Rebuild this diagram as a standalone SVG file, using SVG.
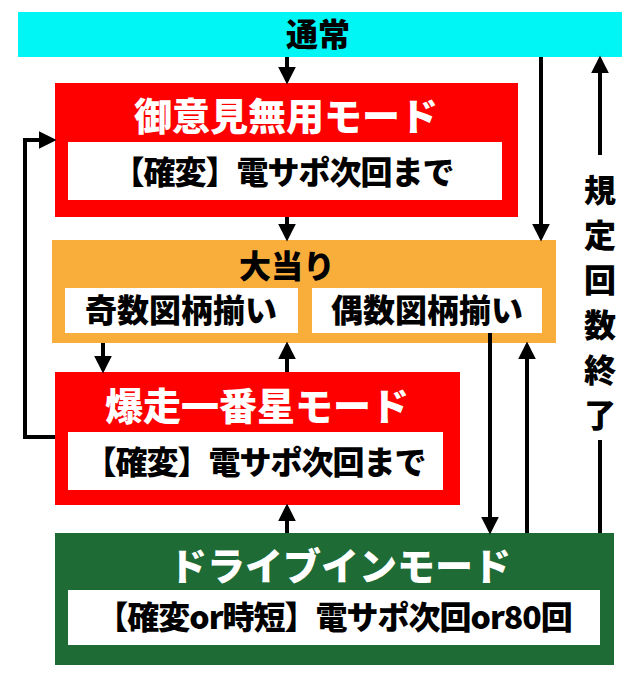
<svg xmlns="http://www.w3.org/2000/svg" width="640" height="683" viewBox="0 0 640 683">
<style>
text{font-family:"Noto Sans CJK JP","Noto Sans",sans-serif;font-weight:900;text-anchor:middle}
.t{fill:#fff;font-size:38px}
.b{fill:#000;font-size:32px}
.w{fill:#fff}
.c{stroke:#000;stroke-width:4;fill:none}
</style>
<defs><marker id="a" viewBox="0 0 10 10" refX="8" refY="5" markerWidth="4.5" markerHeight="4.5" orient="auto"><path d="M0,0L10,5L0,10z" fill="#000"/></marker></defs>
<rect width="640" height="683" fill="#fff"/>
<g id="top"><rect x="18" y="12" width="604" height="45" fill="#00f5f5"/><text x="318" y="46" class="b" font-size="27">通常</text></g>
<g id="mode1"><rect x="55" y="83" width="463" height="134" fill="#f00"/><text x="286" y="130" class="t">御意見無用モード</text><rect x="68" y="142" width="434" height="58" class="w"/><text x="283" y="184" class="b" letter-spacing="-1">【確変】電サポ次回まで</text></g>
<g id="oatari"><rect x="52" y="240" width="504" height="103" fill="#f9ad3a"/><text x="287" y="278" class="b" font-size="26">大当り</text>
<rect x="65" y="288" width="233" height="45" class="w"/><text x="181" y="322" class="b" font-size="27">奇数図柄揃い</text>
<rect x="312" y="288" width="230" height="45" class="w"/><text x="427" y="322" class="b" font-size="27">偶数図柄揃い</text></g>
<g id="mode2"><rect x="55" y="372" width="405" height="133" fill="#f00"/><text x="257" y="420" class="t">爆走一番星モード</text><rect x="68" y="432" width="375" height="58" class="w"/><text x="255" y="474" class="b" letter-spacing="-1">【確変】電サポ次回まで</text></g>
<g id="drive"><rect x="55" y="533" width="559" height="132" fill="#1e6b35"/><text x="340" y="580" class="t" font-size="39">ドライブインモード</text><rect x="68" y="590" width="532" height="55" class="w"/><text x="334" y="629" class="b" font-size="25" letter-spacing="-1">【確変or時短】電サポ次回or80回</text></g>
<g id="connectors" class="c">
<path d="M287,57V81" marker-end="url(#a)"/>
<path d="M287,217V238" marker-end="url(#a)"/>
<path d="M103,343V370" marker-end="url(#a)"/>
<path d="M287,372V345" marker-end="url(#a)"/>
<path d="M287,533V507" marker-end="url(#a)"/>
<path d="M541,57V238" marker-end="url(#a)"/>
<path d="M490,333V531" marker-end="url(#a)"/>
<path d="M527,533V345" marker-end="url(#a)"/>
<path d="M600,533V59" marker-end="url(#a)"/>
<path d="M55,437H25V140H53" marker-end="url(#a)"/>
</g>
<g id="label"><rect x="574" y="155" width="52" height="285" fill="#fff"/>
<g class="b" font-size="46"><text x="600" y="202">規</text><text x="600" y="247">定</text><text x="600" y="292">回</text><text x="600" y="337">数</text><text x="600" y="382">終</text><text x="600" y="427">了</text></g></g>
</svg>
